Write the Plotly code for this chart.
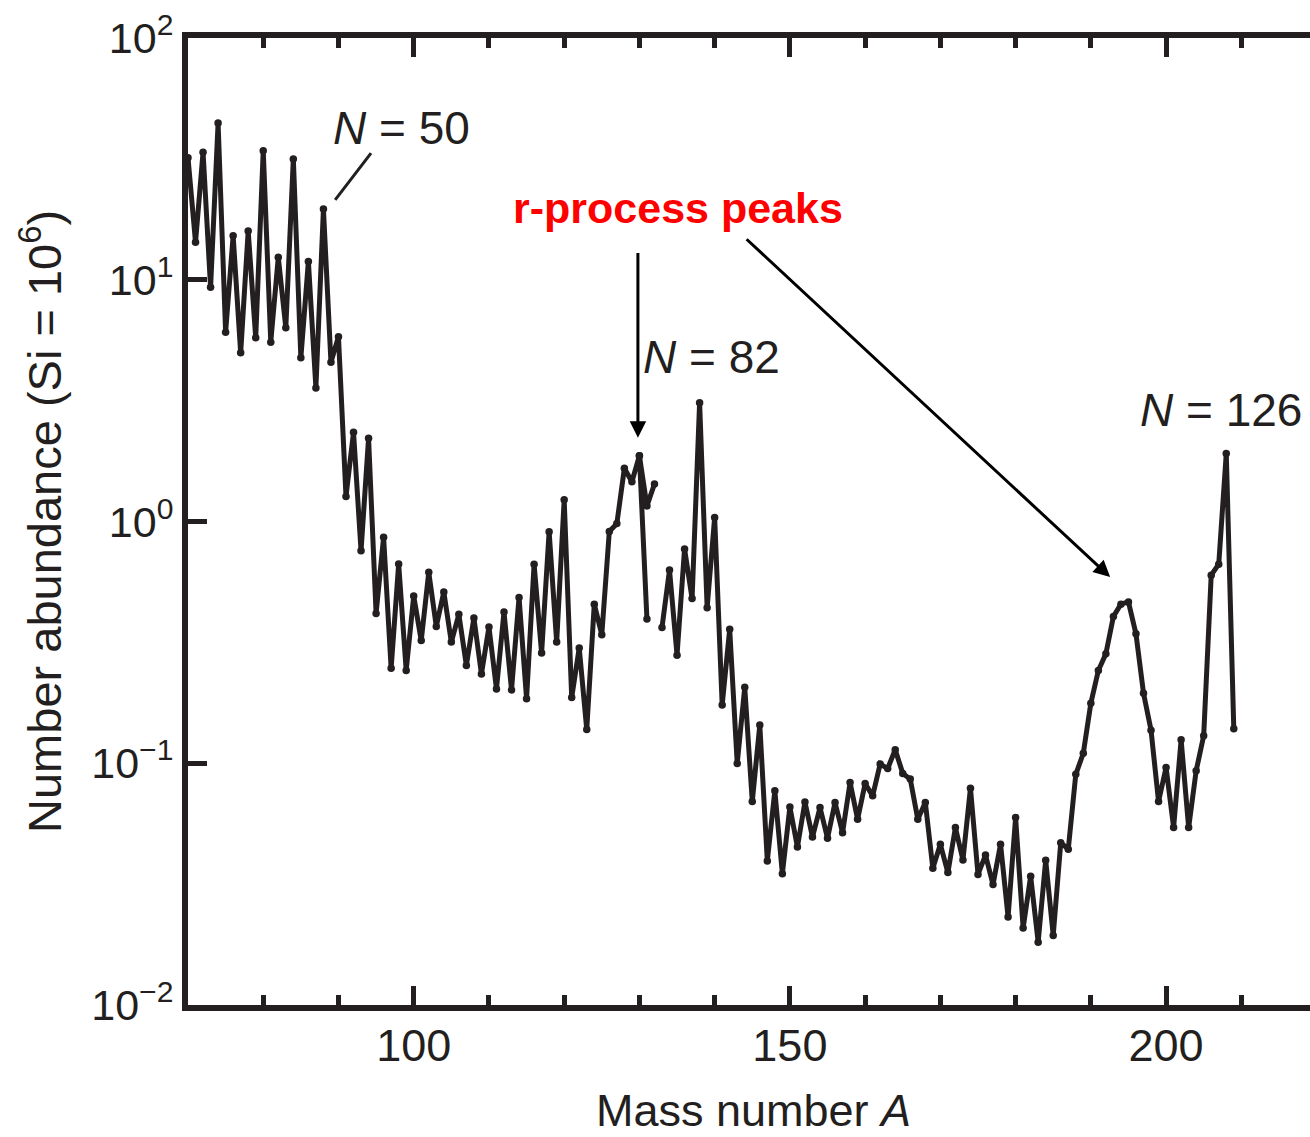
import numpy as np
import plotly.graph_objects as go

# ---------------- data ----------------
mass_number = list(range(70, 210))
abundance = [
    32.0, 14.3, 33.7, 9.3, 44.5, 6.07, 15.2, 4.99, 15.9, 5.75,      # 70-79
    34.2, 5.52, 12.4, 6.33, 31.6, 4.76, 11.9, 3.57, 19.6, 4.56,      # 80-89
    5.81, 1.27, 2.34, 0.757, 2.21, 0.416, 0.86, 0.247, 0.667, 0.242,  # 90-99
    0.492, 0.322, 0.616, 0.368, 0.511, 0.317, 0.413, 0.254, 0.399, 0.234,  # 100-109
    0.366, 0.203, 0.422, 0.201, 0.485, 0.185, 0.666, 0.286, 0.907, 0.317,  # 110-119
    1.23, 0.187, 0.30, 0.138, 0.455, 0.34, 0.91, 0.98, 1.66, 1.46,   # 120-129
    1.87, 0.395, None, 0.364, 0.63, 0.28, 0.77, 0.48, 3.1, 0.44,      # 130-139
    1.04, 0.174, 0.358, 0.0998, 0.206, 0.0695, 0.144, 0.0394, 0.0769, 0.0349,  # 140-149
    0.066, 0.045, 0.0692, 0.0495, 0.0656, 0.049, 0.0688, 0.0516, 0.0832, 0.0587,  # 150-159
    0.0824, 0.0733, 0.0993, 0.0951, 0.1138, 0.0908, 0.086, 0.0587, 0.0688, 0.0368,  # 160-169
    0.0462, 0.0353, 0.0542, 0.0398, 0.0789, 0.0347, 0.0417, 0.0315, 0.0462, 0.0231,  # 170-179
    0.0596, 0.0208, 0.0341, 0.0182, 0.0397, 0.0194, 0.0469, 0.0441, 0.09, 0.11,  # 180-189
    0.177, 0.242, 0.284, 0.405, 0.455, 0.465, 0.343, 0.195, 0.137, 0.0695,  # 190-199
    0.0961, 0.0542, 0.125, 0.0542, 0.0931, 0.13, 0.60, 0.666, 1.91, 0.139,  # 200-209
]
branch_mass = [130, 131, 132]
branch_abundance = [1.87, 1.16, 1.43]

x_range = [70, 219.13]
y_range_decades = [-2, 2]
y_tick_values = [0.01, 0.1, 1, 10, 100]
y_tick_text = ["10<sup>\u22122</sup>", "10<sup>\u22121</sup>", "10<sup>0</sup>",
               "10<sup>1</sup>", "10<sup>2</sup>"]
x_major_ticks = [100, 150, 200]
x_minor_ticks = list(range(70, 220, 10))
right_tick_values = [0.1, 1, 10]

INK = "#231f20"
RED = "#ff0000"
FONT = "Liberation Sans, Arial, Helvetica, sans-serif"

ly = np.log10

fig = go.Figure()
fig.add_trace(go.Scatter(
    x=mass_number, y=abundance, mode="lines+markers", connectgaps=False,
    line=dict(color=INK, width=5), marker=dict(color=INK, size=7.5),
    showlegend=False, hoverinfo="x+y"))
fig.add_trace(go.Scatter(
    x=branch_mass, y=branch_abundance, mode="lines+markers",
    line=dict(color=INK, width=5), marker=dict(color=INK, size=7.5),
    showlegend=False, hoverinfo="x+y"))

annotations = [
    dict(x=98.33, y=ly(42.6), xref="x", yref="y", text="<i>N</i> = 50", showarrow=False,
         font=dict(size=46, color=INK, family=FONT), xanchor="center", yanchor="middle"),
    dict(x=139.53, y=ly(4.80), xref="x", yref="y", text="<i>N</i> = 82", showarrow=False,
         font=dict(size=46, color=INK, family=FONT), xanchor="center", yanchor="middle"),
    dict(x=207.3, y=ly(2.90), xref="x", yref="y", text="<i>N</i> = 126", showarrow=False,
         font=dict(size=46, color=INK, family=FONT), xanchor="center", yanchor="middle"),
    dict(x=135.14, y=ly(19.9), xref="x", yref="y", text="<b>r-process peaks</b>", showarrow=False,
         font=dict(size=43, color=RED, family=FONT), xanchor="center", yanchor="middle"),
    # N = 50 pointer (plain line)
    dict(x=89.56, y=ly(21.4), xref="x", yref="y", ax=94.48, ay=ly(33.9), axref="x", ayref="y",
         text="", showarrow=True, arrowhead=0, arrowwidth=3, arrowcolor=INK, standoff=0),
    # r-process arrows
    dict(x=129.8, y=ly(2.22), xref="x", yref="y", ax=129.8, ay=ly(13.1), axref="x", ayref="y",
         text="", showarrow=True, arrowhead=2, arrowsize=1.1, arrowwidth=3, arrowcolor="black", standoff=0),
    dict(x=192.56, y=ly(0.589), xref="x", yref="y", ax=144.05, ay=ly(14.9), axref="x", ayref="y",
         text="", showarrow=True, arrowhead=2, arrowsize=1.1, arrowwidth=3, arrowcolor="black", standoff=0),
    # axis titles
    dict(x=-0.1315, y=0.5, xref="paper", yref="paper", text="Number abundance (Si = 10<sup>6</sup>)",
         textangle=-90, showarrow=False, font=dict(size=47, color=INK, family=FONT),
         xanchor="center", yanchor="middle"),
    dict(x=0.5036, y=-0.109, xref="paper", yref="paper", text="Mass number <i>A</i>",
         showarrow=False, font=dict(size=45, color=INK, family=FONT),
         xanchor="center", yanchor="middle"),
]

fig.update_layout(
    width=1310, height=1137,
    margin=dict(l=188, r=0, t=38, b=132, pad=0),
    paper_bgcolor="white", plot_bgcolor="white",
    font=dict(family=FONT, color=INK),
    showlegend=False,
    annotations=annotations,
    xaxis=dict(
        range=x_range, showline=True, linecolor=INK, linewidth=6, mirror="ticks",
        ticks="inside", ticklen=19, tickwidth=5, tickcolor=INK,
        tickvals=x_major_ticks, ticktext=[str(v) for v in x_major_ticks],
        tickfont=dict(size=45, color=INK, family=FONT), ticklabelstandoff=-4,
        minor=dict(tickvals=x_minor_ticks, ticks="inside", ticklen=10, tickwidth=5, tickcolor=INK),
        showgrid=False, zeroline=False,
    ),
    yaxis=dict(
        type="log", range=y_range_decades, showline=True, linecolor=INK, linewidth=6,
        ticks="inside", ticklen=19, tickwidth=5, tickcolor=INK,
        tickvals=y_tick_values, ticktext=y_tick_text,
        tickfont=dict(size=43, color=INK, family=FONT),
        showgrid=False, zeroline=False,
    ),
    yaxis2=dict(
        type="log", range=y_range_decades, overlaying="y", side="right", anchor="x",
        showline=False, ticks="inside", ticklen=14, tickwidth=5, tickcolor=INK,
        tickvals=right_tick_values, showticklabels=False, showgrid=False, zeroline=False,
    ),
)

fig.write_html("out.html")
